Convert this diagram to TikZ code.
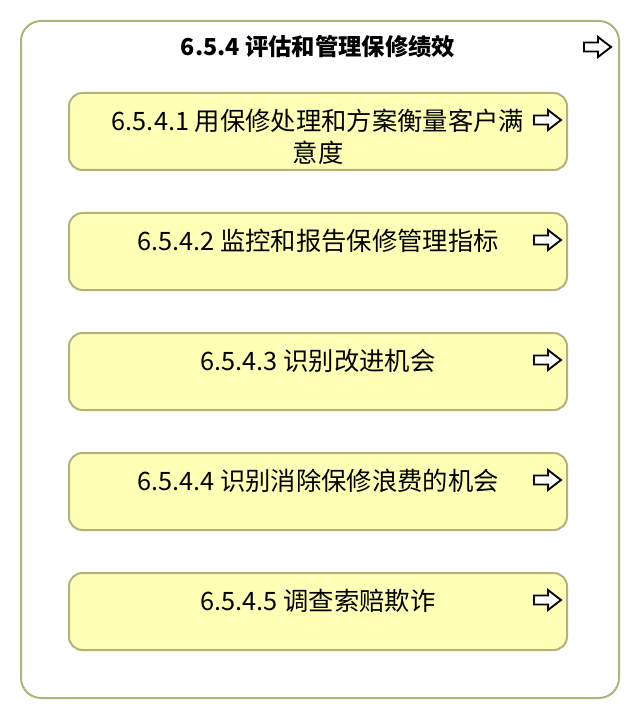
\documentclass[tikz,border=0pt]{standalone}
\usepackage{fontspec}
\setmainfont{Noto Sans CJK SC}
\usetikzlibrary{positioning}
\definecolor{boxfill}{RGB}{255,255,181}
\definecolor{boxline}{RGB}{178,178,122}
\newcommand{\goarrow}[1]{\draw[line width=1.4pt,fill=white,shift={#1}] (-13,-4.5) -- (1,-4.5) -- (1,-10) -- (14,0) -- (1,10) -- (1,4.5) -- (-13,4.5) -- cycle;}

\begin{document}
\begin{tikzpicture}[x=0.75pt,y=-0.75pt]
  \tikzset{GRP/.style={draw=boxline, line width=1.5pt, rounded corners=15pt, fill=white, minimum width=448.5pt, minimum height=507.75pt},
           TSK/.style={draw=boxline, line width=1.5pt, rounded corners=10pt, fill=boxfill, minimum width=373.5pt, minimum height=57.75pt},
           TXT/.style={align=center, font=\fontsize{19}{24}\selectfont, inner sep=0pt}}

  \useasboundingbox (0,0) rectangle (640,720);

  \node[GRP] (grp) at (320,359.5) {};
  \node[TXT, font=\bfseries\fontsize{17.5}{22}\selectfont] (grpl) at (318,47) {6.5.4 评估和管理保修绩效};

  \node[TSK] (t1) at (318,131.5) {};
  \node[TSK] (t2) at (318,251.5) {};
  \node[TSK] (t3) at (318,371.5) {};
  \node[TSK] (t4) at (318,491.5) {};
  \node[TSK] (t5) at (318,611.5) {};

  \node[TXT] (t1l) at (318,137) {6.5.4.1 用保修处理和方案衡量客户满\\意度};
  \node[TXT] (t2l) at (318,241) {6.5.4.2 监控和报告保修管理指标};
  \node[TXT] (t3l) at (318,361) {6.5.4.3 识别改进机会};
  \node[TXT] (t4l) at (318,481) {6.5.4.4 识别消除保修浪费的机会};
  \node[TXT] (t5l) at (318,601) {6.5.4.5 调查索赔欺诈};

  \goarrow{(597,47)}
  \foreach \y in {120,240,360,480,600} {
    \goarrow{(547,\y)}
  }
\end{tikzpicture}
\end{document}
